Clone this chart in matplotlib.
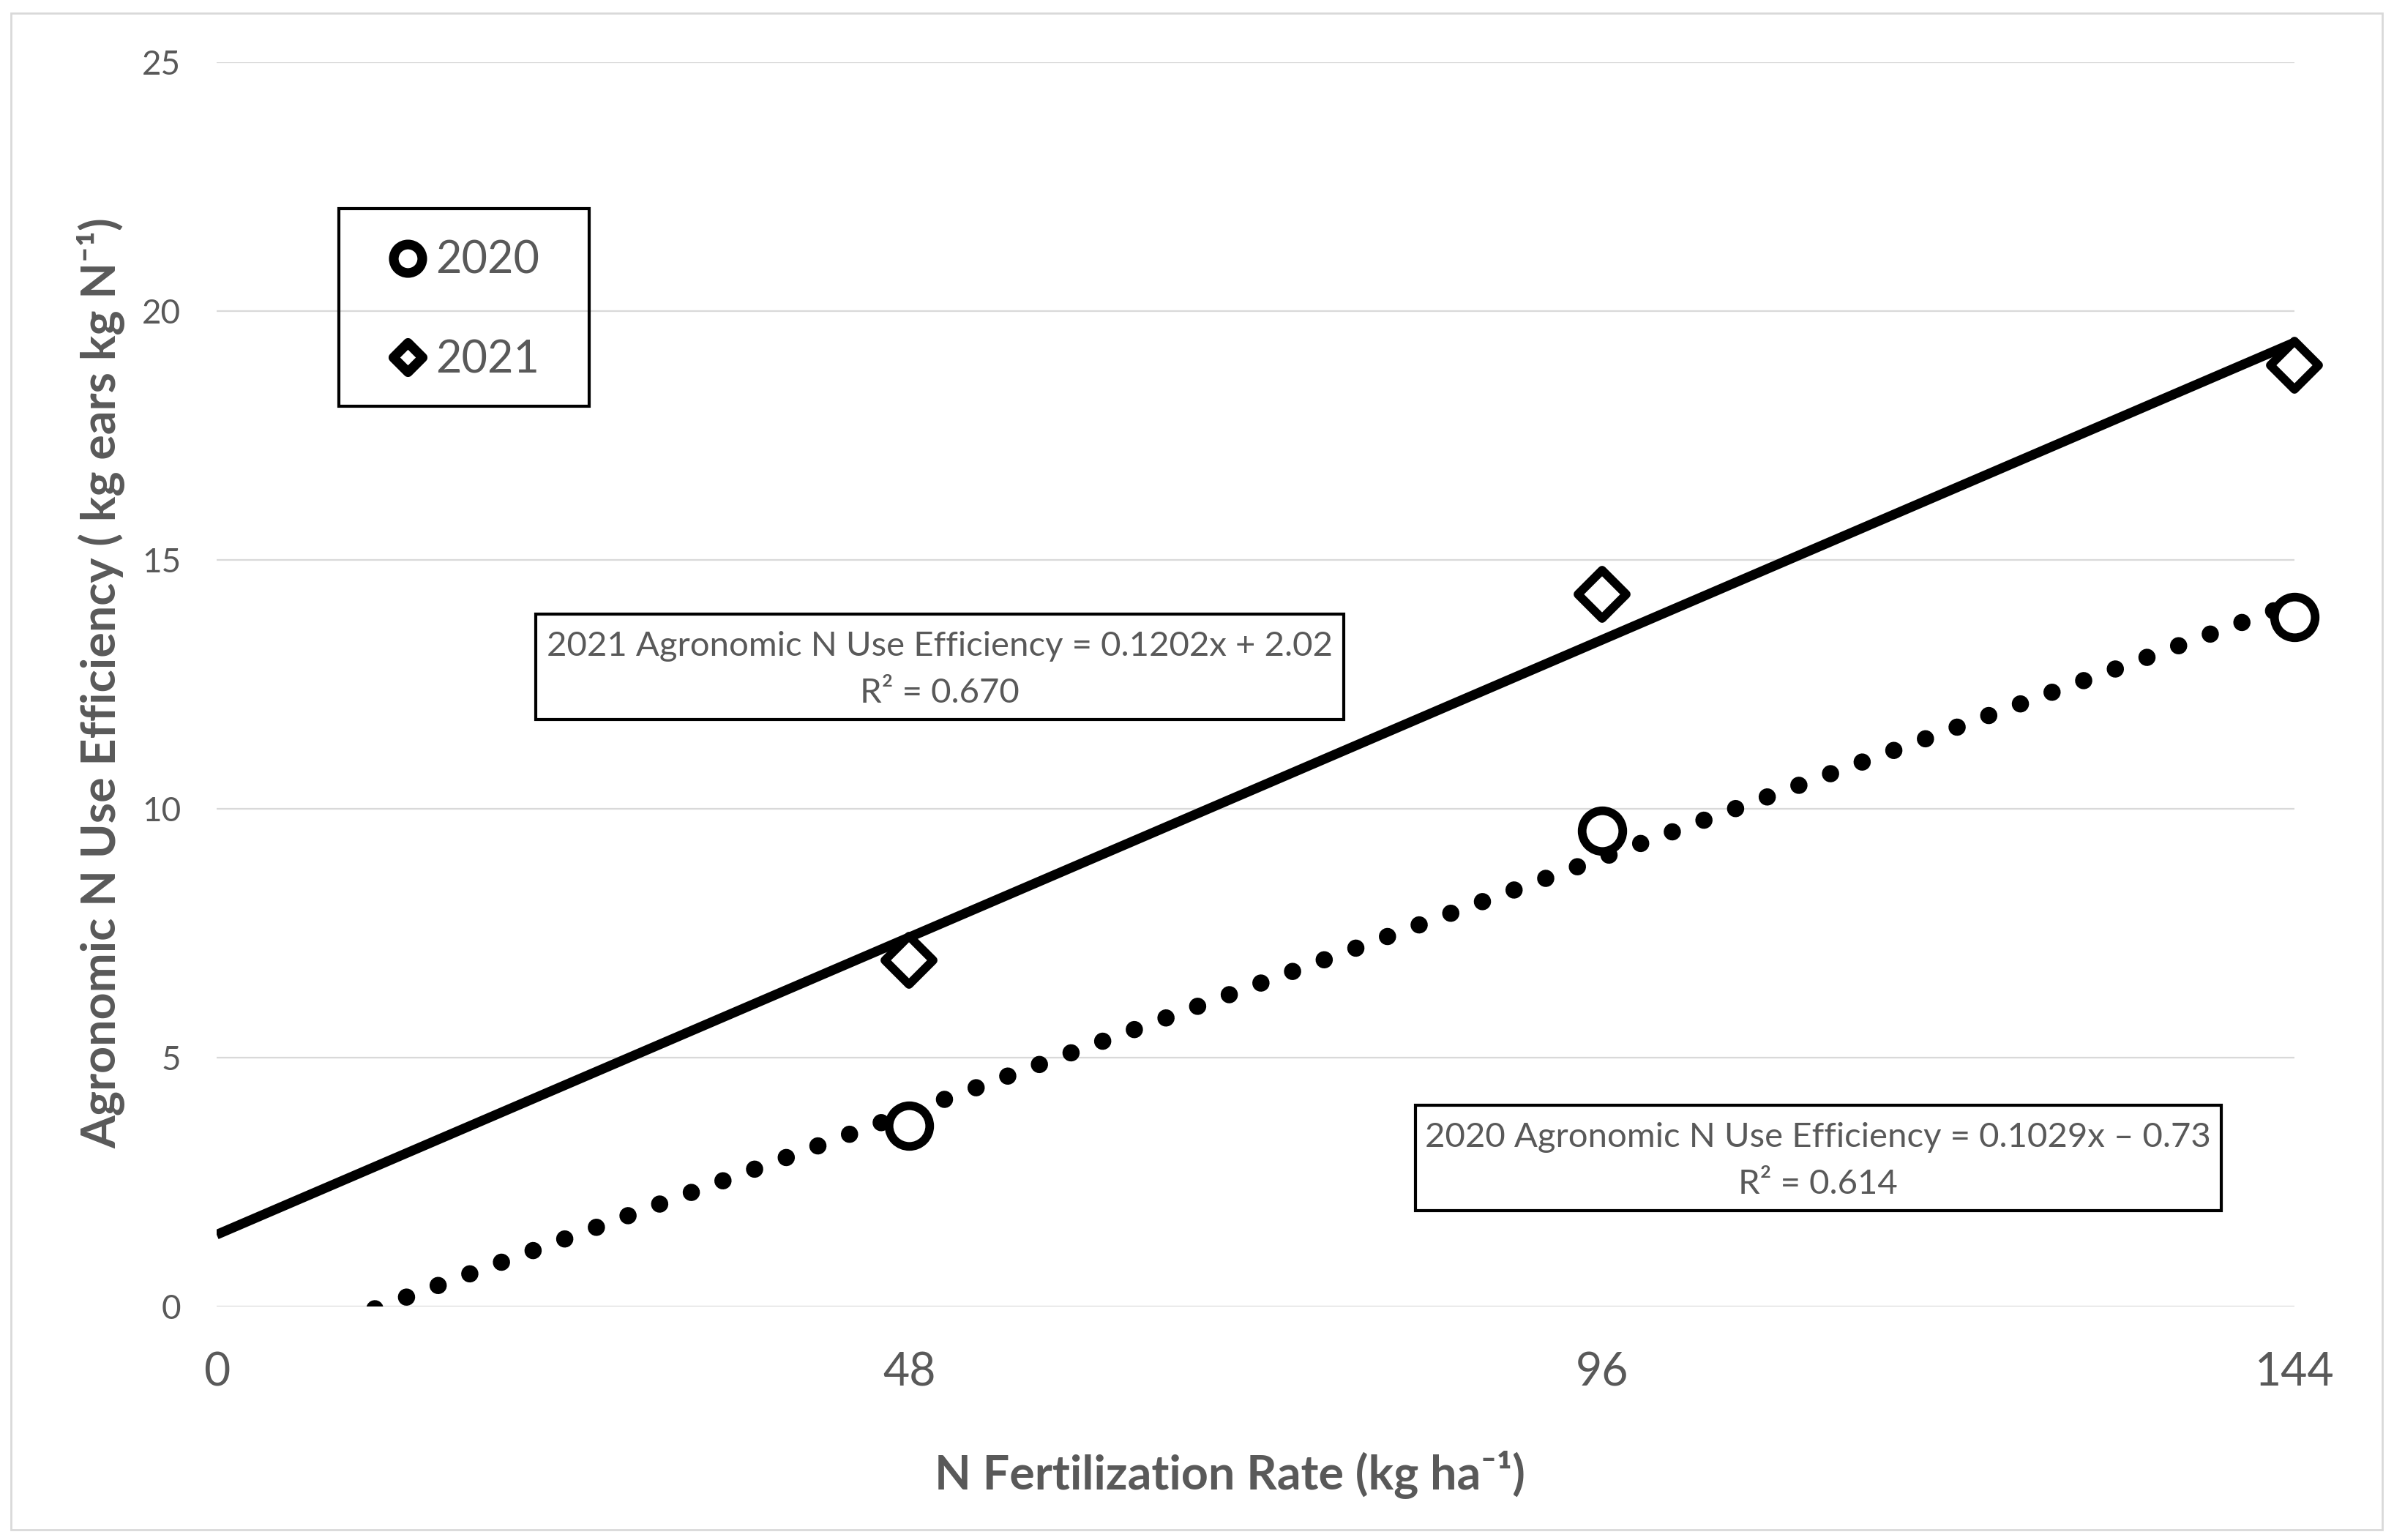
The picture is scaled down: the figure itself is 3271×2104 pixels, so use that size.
import numpy as np
import matplotlib
matplotlib.use("Agg")
import matplotlib.pyplot as plt
from matplotlib.lines import Line2D
from matplotlib.markers import MarkerStyle
from matplotlib.patches import Rectangle

# values
n_rate = [48, 96, 144]
eff_2020 = [3.63, 9.56, 13.86]
eff_2021 = [6.96, 14.31, 18.91]
x_ticks = [0, 48, 96, 144]
y_ticks = [0, 5, 10, 15, 20, 25]
series_labels = ["2020", "2021"]
eq_2021 = "2021 Agronomic N Use Efficiency = 0.1202x + 2.02\nR² = 0.670"
eq_2020 = "2020 Agronomic N Use Efficiency = 0.1029x – 0.73\nR² = 0.614"
x_title = "N Fertilization Rate (kg ha⁻¹)"
y_title = "Agronomic N Use Efficiency ( kg ears kg N⁻¹)"

W, H, DPI = 3271, 2104, 100
GRAY = "#595959"
GRID = "#D9D9D9"

plt.rcParams["font.family"] = ["Lato", "DejaVu Sans"]


def fx(px):
    return px / W


def fy(py):
    return 1 - py / H


fig = plt.figure(figsize=(W / DPI, H / DPI), dpi=DPI)
ax = fig.add_axes([fx(296), fy(1785), (3135 - 296) / W, (1785 - 85) / H])

# linear trendlines fitted to the plotted points
x_line = np.array([0, 144])
fit_2021 = np.polyfit(n_rate, eff_2021, 1)
fit_2020 = np.polyfit(n_rate, eff_2020, 1)
ax.plot(x_line, np.polyval(fit_2021, x_line), color="black", lw=9.5,
        solid_capstyle="butt", zorder=3)
dotted, = ax.plot(x_line, np.polyval(fit_2020, x_line), color="black", lw=17,
                  dash_capstyle="round", zorder=3)
dotted.set_dashes([0.001, 1.95])

diamond = MarkerStyle("D", joinstyle="round")
ax.plot(n_rate, eff_2020, ls="none", marker="o", ms=40, mew=8.5,
        mfc="white", mec="black", zorder=4, clip_on=False)
ax.plot(n_rate, eff_2021, ls="none", marker=diamond, ms=34, mew=8.5,
        mfc="white", mec="black", zorder=4, clip_on=False)

ax.set_xlim(0, 144)
ax.set_ylim(0, 25)
ax.set_xticks(x_ticks)
ax.set_yticks(y_ticks)
ax.tick_params(axis="both", length=0, colors=GRAY)
ax.tick_params(axis="x", labelsize=45, pad=44)
ax.tick_params(axis="y", labelsize=33, pad=35)
ax.grid(axis="y", color=GRID, lw=1.6)
ax.set_axisbelow(True)
for s in ax.spines.values():
    s.set_visible(False)

ax.set_xlabel(x_title, fontsize=46.5, fontweight="bold", color=GRAY, va="center")
ax.xaxis.set_label_coords(0.4875, -0.135)
ax.set_ylabel(y_title, fontsize=46.5, fontweight="bold", color=GRAY, va="center")
ax.yaxis.set_label_coords(-0.0557, 0.501)

# legend
handles = [
    Line2D([], [], ls="none", marker="o", ms=28, mew=9.5, mfc="white", mec="black"),
    Line2D([], [], ls="none", marker=MarkerStyle("D", joinstyle="round"), ms=20,
           mew=9.5, mfc="white", mec="black"),
]
fig.legend(handles, series_labels, loc="center", bbox_to_anchor=(fx(634), fy(424)),
           frameon=False, fontsize=44, handlelength=0.85, handletextpad=0.2,
           labelspacing=1.28, borderpad=0, labelcolor=GRAY)
fig.add_artist(Rectangle((fx(463), fy(555)), (805 - 463) / W, (555 - 285) / H,
                         transform=fig.transFigure, fill=False, ec="black", lw=3))

# equation boxes
fig.add_artist(Rectangle((fx(732), fy(983)), (1836 - 732) / W, (983 - 839) / H,
                         transform=fig.transFigure, fill=True, fc="white", ec="black", lw=3))
fig.text(fx(1284), fy(915), eq_2021, ha="center", va="center", fontsize=34,
         color=GRAY, linespacing=1.65, multialignment="center")
fig.add_artist(Rectangle((fx(1934), fy(1654)), (3035 - 1934) / W, (1654 - 1510) / H,
                         transform=fig.transFigure, fill=True, fc="white", ec="black", lw=3))
fig.text(fx(2484), fy(1586), eq_2020, ha="center", va="center", fontsize=34,
         color=GRAY, linespacing=1.65, multialignment="center")

# outer chart border
fig.add_artist(Rectangle((fx(15), fy(2090)), (3255 - 15) / W, (2090 - 18) / H,
                         transform=fig.transFigure, fill=False, ec=GRID, lw=2))

fig.savefig("out.png", dpi=DPI)
